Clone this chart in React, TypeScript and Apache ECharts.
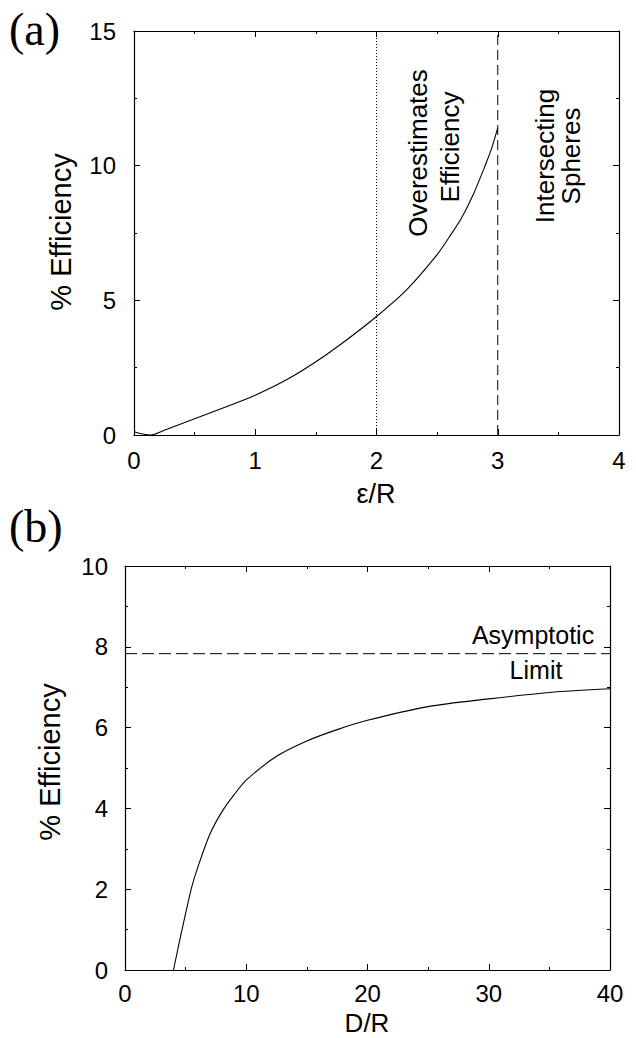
import React, { useEffect, useRef } from "react";
import * as echarts from "echarts";

// Panel (a): % Efficiency vs ε/R
const aX = [0, 0.136, 0.25, 0.5, 0.75, 1.0, 1.25, 1.5, 1.75, 2.0, 2.25, 2.5, 2.6, 2.7, 2.8, 2.9, 2.95, 3.0];
const aY = [0.12, 0, 0.18, 0.6, 1.03, 1.48, 2.03, 2.72, 3.52, 4.4, 5.4, 6.7, 7.35, 8.05, 8.95, 10.05, 10.65, 11.4];
const aDotted = 2; // ε/R
const aDashed = 3; // ε/R

// Panel (b): % Efficiency vs D/R
const bX = [4, 4.5, 5, 5.5, 6, 7, 8, 9, 10, 12.5, 15, 17.5, 20, 25, 30, 35, 40];
const bY = [0, 0.72, 1.4, 2.05, 2.54, 3.36, 3.92, 4.34, 4.7, 5.29, 5.67, 5.95, 6.18, 6.52, 6.71, 6.87, 6.96];
const bAsymptote = 7.83;

const aXRange = [0, 4];
const aYRange = [0, 15];
const bXRange = [0, 40];
const bYRange = [0, 10];

const SANS = "Liberation Sans, Arial, Helvetica, sans-serif";
const SERIF = "Liberation Serif, Times New Roman, serif";

function axisBase(min: number, max: number, interval: number, showLabel: boolean, margin: number) {
  return {
    type: "value",
    min,
    max,
    interval,
    axisLine: { show: true, onZero: false, lineStyle: { color: "#000", width: 1.2 } },
    axisTick: { show: true, inside: true, length: 6, lineStyle: { color: "#000", width: 1 } },
    minorTick: { show: true, splitNumber: 2, length: 3, lineStyle: { color: "#000", width: 1 } },
    splitLine: { show: false },
    minorSplitLine: { show: false },
    axisLabel: {
      show: showLabel,
      color: "#000",
      fontSize: 24,
      fontFamily: SANS,
      margin,
    },
  };
}

export default function App() {
  const ref = useRef<HTMLDivElement>(null);
  useEffect(() => {
    if (!ref.current) return;
    const chart = echarts.init(ref.current, null, { renderer: "svg" });
    const lineStyle = { color: "#000", width: 1.1 };
    const option: any = {
      animation: false,
      backgroundColor: "#fff",
      grid: [
        { left: 134, top: 31, width: 485, height: 404 },
        { left: 125, top: 566, width: 485, height: 404 },
      ],
      xAxis: [
        { ...axisBase(aXRange[0], aXRange[1], 1, true, 13), gridIndex: 0, position: "bottom" },
        { ...axisBase(aXRange[0], aXRange[1], 1, false, 0), gridIndex: 0, position: "top" },
        { ...axisBase(bXRange[0], bXRange[1], 10, true, 11), gridIndex: 1, position: "bottom" },
        { ...axisBase(bXRange[0], bXRange[1], 10, false, 0), gridIndex: 1, position: "top" },
      ],
      yAxis: [
        { ...axisBase(aYRange[0], aYRange[1], 5, true, 18), gridIndex: 0, position: "left" },
        { ...axisBase(aYRange[0], aYRange[1], 5, false, 0), gridIndex: 0, position: "right" },
        { ...axisBase(bYRange[0], bYRange[1], 2, true, 17), gridIndex: 1, position: "left" },
        { ...axisBase(bYRange[0], bYRange[1], 2, false, 0), gridIndex: 1, position: "right" },
      ],
      series: [
        {
          type: "line",
          xAxisIndex: 0,
          yAxisIndex: 0,
          data: aX.map((x, i) => [x, aY[i]]),
          showSymbol: false,
          smooth: 0.3,
          lineStyle,
        },
        {
          type: "line",
          xAxisIndex: 0,
          yAxisIndex: 0,
          data: [[aDotted, aYRange[0]], [aDotted, aYRange[1]]],
          showSymbol: false,
          lineStyle: { color: "#000", width: 1, type: [1, 2] },
        },
        {
          type: "line",
          xAxisIndex: 0,
          yAxisIndex: 0,
          data: [[aDashed, aYRange[0]], [aDashed, aYRange[1]]],
          showSymbol: false,
          lineStyle: { color: "#000", width: 1, type: [10, 5] },
        },
        {
          type: "line",
          xAxisIndex: 2,
          yAxisIndex: 2,
          data: bX.map((x, i) => [x, bY[i]]),
          showSymbol: false,
          smooth: 0.3,
          lineStyle,
        },
        {
          type: "line",
          xAxisIndex: 2,
          yAxisIndex: 2,
          data: [[bXRange[0], bAsymptote], [bXRange[1], bAsymptote]],
          showSymbol: false,
          lineStyle: { color: "#000", width: 1, type: [12, 5] },
        },
      ],
      graphic: [
        { type: "text", x: 9, y: 29, style: { text: "(a)", fontFamily: SERIF, fontSize: 46, fill: "#000", textAlign: "left", textVerticalAlign: "middle" } },
        { type: "text", x: 9, y: 526, style: { text: "(b)", fontFamily: SERIF, fontSize: 46, fill: "#000", textAlign: "left", textVerticalAlign: "middle" } },
        { type: "text", x: 61, y: 232, rotation: Math.PI / 2, style: { text: "% Efficiency", fontFamily: SANS, fontSize: 29, fill: "#000", textAlign: "center", textVerticalAlign: "middle" } },
        { type: "text", x: 50, y: 762, rotation: Math.PI / 2, style: { text: "% Efficiency", fontFamily: SANS, fontSize: 29, fill: "#000", textAlign: "center", textVerticalAlign: "middle" } },
        { type: "text", x: 376, y: 494, style: { text: "ε/R", fontFamily: SANS, fontSize: 27, fill: "#000", textAlign: "center", textVerticalAlign: "middle" } },
        { type: "text", x: 367, y: 1023, style: { text: "D/R", fontFamily: SANS, fontSize: 26, fill: "#000", textAlign: "center", textVerticalAlign: "middle" } },
        { type: "text", x: 418, y: 153, rotation: Math.PI / 2, style: { text: "Overestimates", fontFamily: SANS, fontSize: 26, fill: "#000", textAlign: "center", textVerticalAlign: "middle" } },
        { type: "text", x: 450, y: 147, rotation: Math.PI / 2, style: { text: "Efficiency", fontFamily: SANS, fontSize: 26, fill: "#000", textAlign: "center", textVerticalAlign: "middle" } },
        { type: "text", x: 545, y: 156, rotation: Math.PI / 2, style: { text: "Intersecting", fontFamily: SANS, fontSize: 26, fill: "#000", textAlign: "center", textVerticalAlign: "middle" } },
        { type: "text", x: 571, y: 156, rotation: Math.PI / 2, style: { text: "Spheres", fontFamily: SANS, fontSize: 26, fill: "#000", textAlign: "center", textVerticalAlign: "middle" } },
        { type: "text", x: 533, y: 635, style: { text: "Asymptotic", fontFamily: SANS, fontSize: 25, fill: "#000", textAlign: "center", textVerticalAlign: "middle" } },
        { type: "text", x: 536, y: 670, style: { text: "Limit", fontFamily: SANS, fontSize: 25, fill: "#000", textAlign: "center", textVerticalAlign: "middle" } },
      ],
    };
    chart.setOption(option);
    return () => chart.dispose();
  }, []);
  return (
    <div
      ref={ref}
      style={{ position: "absolute", left: 0, top: 0, width: 636, height: 1038, background: "#fff" }}
    />
  );
}
